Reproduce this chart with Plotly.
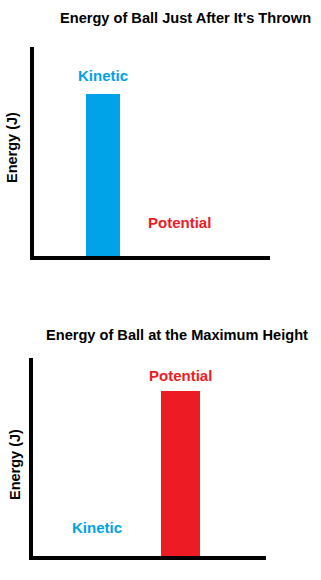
import plotly.graph_objects as go

# ---- data ----
categories = ["Kinetic", "Potential"]
thrown_energy = [100, 0]      # just after it's thrown
max_height_energy = [0, 100]  # at maximum height
titles = ["Energy of Ball Just After It's Thrown", "Energy of Ball at the Maximum Height"]
y_label = "Energy (J)"

BLUE = "#00A2E8"
RED = "#ED1C24"
colors = [BLUE, RED]
FONT = "Liberation Sans, Arial, sans-serif"

W, H = 321, 580

fig = go.Figure()
fig.add_trace(go.Bar(x=categories, y=thrown_energy, marker=dict(color=colors, line=dict(width=0)),
                     width=0.44, xaxis="x", yaxis="y", showlegend=False, hoverinfo="x+y"))
fig.add_trace(go.Bar(x=categories, y=max_height_energy, marker=dict(color=colors, line=dict(width=0)),
                     width=0.47, xaxis="x2", yaxis="y2", showlegend=False, hoverinfo="x+y"))

def px_x(p):
    return p / W

def px_y(p):
    return 1 - p / H

axis_common = dict(showline=True, linecolor="black", linewidth=4, showgrid=False,
                   zeroline=False, showticklabels=False, ticks="", fixedrange=True)

fig.update_layout(
    width=W, height=H,
    margin=dict(l=0, r=0, t=0, b=0),
    paper_bgcolor="white", plot_bgcolor="white",
    font=dict(family=FONT, color="black"),
    bargap=0,
    xaxis=dict(domain=[px_x(34), px_x(270)], range=[-0.896, 2.169], anchor="y", **axis_common),
    yaxis=dict(domain=[px_y(256), px_y(47)], range=[0, 129], anchor="x", **axis_common),
    xaxis2=dict(domain=[px_x(33), px_x(266)], range=[-0.771, 2.036], anchor="y2", **axis_common),
    yaxis2=dict(domain=[px_y(556), px_y(358)], range=[0, 120], anchor="x2", **axis_common),
)

ann = []
# titles
ann.append(dict(text=f"<b>{titles[0]}</b>", x=px_x(186), y=px_y(18), xref="paper", yref="paper",
                showarrow=False, xanchor="center", yanchor="middle", font=dict(size=14.6, color="black")))
ann.append(dict(text=f"<b>{titles[1]}</b>", x=px_x(177), y=px_y(335), xref="paper", yref="paper",
                showarrow=False, xanchor="center", yanchor="middle", font=dict(size=14.6, color="black")))
# y-axis labels
ann.append(dict(text=f"<b>{y_label}</b>", x=px_x(12), y=px_y(148), xref="paper", yref="paper",
                showarrow=False, textangle=-90, xanchor="center", yanchor="middle",
                font=dict(size=14.5, color="black")))
ann.append(dict(text=f"<b>{y_label}</b>", x=px_x(15), y=px_y(465), xref="paper", yref="paper",
                showarrow=False, textangle=-90, xanchor="center", yanchor="middle",
                font=dict(size=14.5, color="black")))

# bar labels
def bar_labels(xref, yref, values, shifts):
    for cat, val, col, sh in zip(categories, values, colors, shifts):
        ann.append(dict(text=f"<b>{cat}</b>", x=cat, y=val, xref=xref, yref=yref, showarrow=False,
                        xanchor="center", yanchor="bottom", yshift=sh,
                        font=dict(size=15, color=col)))

bar_labels("x", "y", thrown_energy, [8, 23])
bar_labels("x2", "y2", max_height_energy, [18, 5])

fig.update_layout(annotations=ann)

fig.write_html("out.html")
